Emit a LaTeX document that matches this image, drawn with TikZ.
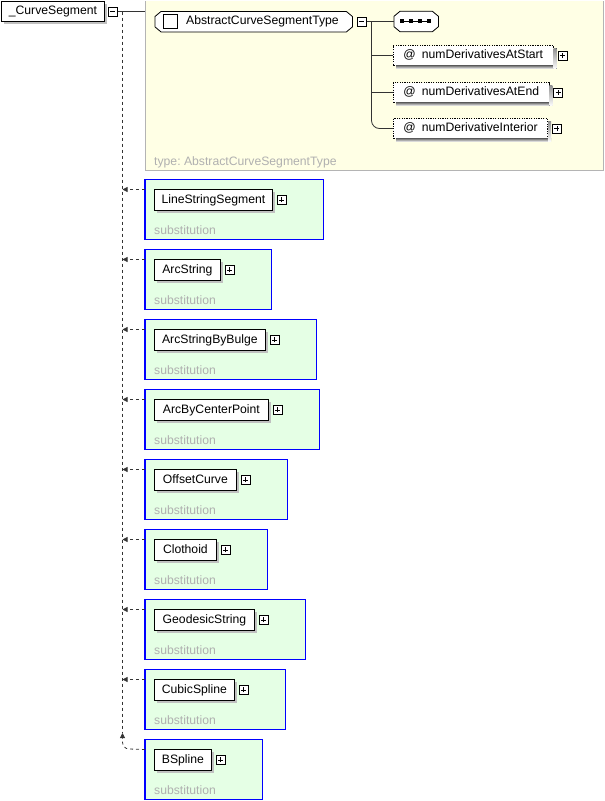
\documentclass[tikz,border=0pt]{standalone}
\usepackage{fontspec}
\setmainfont{Liberation Sans}
\usetikzlibrary{arrows.meta,calc,shadows}

\definecolor{typebg}{HTML}{FFFFE5}
\definecolor{typeframe}{HTML}{B4B4B4}
\definecolor{subbg}{HTML}{E5FFE5}
\definecolor{subblue}{HTML}{0000FF}
\definecolor{hint}{HTML}{B0B0B0}
\definecolor{shade}{HTML}{C0C0C0}

\pgfdeclarelayer{back}
\pgfsetlayers{back,main}

\tikzset{
  x=1pt, y=-1pt,
  every node/.style={font=\fontsize{12.2}{14}\selectfont},
  namebox/.style={draw=black, fill=white, line width=0.8pt, anchor=north west,
    minimum height=21pt, inner xsep=7pt, inner ysep=0pt,
    text height=9pt, text depth=2.5pt,
    general shadow={shadow xshift=3pt, shadow yshift=-3pt, fill=shade}},
  attrbox/.style={draw=black, fill=white, line width=0.8pt, dash pattern=on 1.2pt off 1.2pt,
    anchor=west, minimum height=20pt, inner xsep=10pt, inner ysep=0pt,
    text height=9pt, text depth=2.5pt},
  toggle/.style={draw=black, fill=white, line width=0.7pt, minimum size=9pt,
    inner sep=0pt, anchor=west},
  groupframe/.style={draw=subblue, fill=subbg, line width=1.1pt},
  link/.style={line width=0.8pt, black!80},
  dlink/.style={line width=0.8pt, black!80, dash pattern=on 3pt off 3pt},
  tip/.style={-{Triangle[length=5pt,width=5pt]}},
  hinttext/.style={text=hint, anchor=base west, inner sep=0pt},
}

% plus / minus glyphs inside a toggle box
\newcommand{\plusglyph}[1]{%
  \draw[line width=0.8pt] ([xshift=-2.5pt]#1.center) -- ([xshift=2.5pt]#1.center)
    ([yshift=-2.5pt]#1.center) -- ([yshift=2.5pt]#1.center);}
\newcommand{\minusglyph}[1]{%
  \draw[line width=0.8pt] ([xshift=-2.5pt]#1.center) -- ([xshift=2.5pt]#1.center);}

% chamfered (octagonal) outline around a node
\newcommand{\octo}[2]{%
  \path[#2] ([xshift=6pt]#1.north west) -- ([xshift=-6pt]#1.north east)
    -- ([yshift=-5pt]#1.north east) -- ([yshift=5pt]#1.south east)
    -- ([xshift=-6pt]#1.south east) -- ([xshift=6pt]#1.south west)
    -- ([yshift=5pt]#1.south west) -- ([yshift=-5pt]#1.north west) -- cycle;}

\begin{document}
\begin{tikzpicture}
\useasboundingbox (0,0) rectangle (605,801);

% ---------- element and its complex type ----------
\node[namebox, minimum width=103pt, minimum height=20pt] (root) at (1,1) {\_CurveSegment};
\node[toggle] (rootT) at (108,11.5) {};
\minusglyph{rootT}

\begin{pgfonlayer}{back}
  \fill[typebg] (145,1) rectangle (603,170);
  \draw[typeframe, line width=0.8pt] (145,1) -- (145,170) -- (603,170) -- (603,1);
\end{pgfonlayer}
\coordinate (typeIn) at (145,11.5);
\draw[link] (rootT.east) -- (typeIn);
\node[hinttext] (typeLbl) at (154,165) {type:\ AbstractCurveSegmentType};

% complex type node
\node[anchor=north west, minimum width=197pt, minimum height=20pt, inner sep=0pt] (ct) at (155,11.5) {};
\octo{ct}{fill=shade, shift={(2pt,-2pt)}}
\octo{ct}{draw=black, fill=white, line width=0.8pt}
\node[draw=black, line width=0.8pt, minimum size=14pt, inner sep=0pt] (ctBox) at (170,21.5) {};
\node[anchor=west, inner sep=0pt] (ctName) at (186,21.5) {AbstractCurveSegmentType};
\node[toggle] (ctT) at (357,21.5) {};
\minusglyph{ctT}

% sequence compositor
\node[anchor=west, minimum width=44pt, minimum height=20pt, inner sep=0pt] (seq) at (394,21.5) {};
\octo{seq}{fill=shade, shift={(2pt,-2pt)}}
\octo{seq}{draw=black, fill=white, line width=0.8pt}
\draw[line width=1pt] (402,21) -- (430,21);
\foreach \sx in {402,411,420,429} \fill (\sx-1.6,19.4) rectangle (\sx+1.6,22.6);
\draw[link] (ctT.east) -- (seq.west);

% attributes, each with a drop shadow along its lower and right edges
\foreach \nm/\yy/\txt in {a1/55.5/numDerivativesAtStart, a2/92.5/numDerivativesAtEnd,
                          a3/128.5/numDerivativeInterior} {
  \node[attrbox] (\nm) at (393,\yy) {@\hspace{6pt}\txt};
  \fill[shade] ([xshift=3pt]\nm.south west) rectangle ([xshift=3pt,yshift=-3pt]\nm.south east);
  \fill[shade] (\nm.north east) ++(0,3) rectangle ([xshift=3pt,yshift=-3pt]\nm.south east);
  \node[toggle] (\nm T) at ([xshift=4pt]\nm.east) {};
  \plusglyph{\nm T}
}
\coordinate (branch) at (371.5,21.5);
\draw[link] (branch) |- (a1.west);
\draw[link] (branch) |- (a2.west);
\draw[link, rounded corners=8pt] (branch) |- (a3.west);

% ---------- substitution group members ----------
\coordinate (spineTop) at (122.5,11.5);
\coordinate (spineEnd) at (122.5,733);
\draw[dlink] (spineTop) -- (spineEnd);

\foreach [count=\i from 0] \nm/\w in {
    LineStringSegment/118, ArcString/66, ArcStringByBulge/111,
    ArcByCenterPoint/114, OffsetCurve/82, Clothoid/62,
    GeodesicString/100, CubicSpline/80, BSpline/57} {
  \pgfmathsetmacro{\top}{179.5+70*\i}
  \node[namebox, minimum width=\w pt] (s\i) at (154,\top+9.5) {\nm};
  \node[toggle] (s\i T) at ([xshift=4pt]s\i.east) {};
  \plusglyph{s\i T}
  \node[hinttext] (s\i L) at (154,\top+55) {substitution};
  \begin{pgfonlayer}{back}
    \draw[groupframe] (145,\top) rectangle ($(s\i T.east)+(37,\top+59.5-199.5-70*\i)$);
  \end{pgfonlayer}
  \coordinate (s\i in) at (145,\top+10);
}
\foreach \i in {0,...,7} {
  \draw[dlink, tip] (s\i in) -- (s\i in -| spineTop);
}
\draw[dlink, tip] (s8in) -- (129,749) to[out=180, in=-90] (122.5,742) -- (spineEnd);

\end{tikzpicture}
\end{document}
